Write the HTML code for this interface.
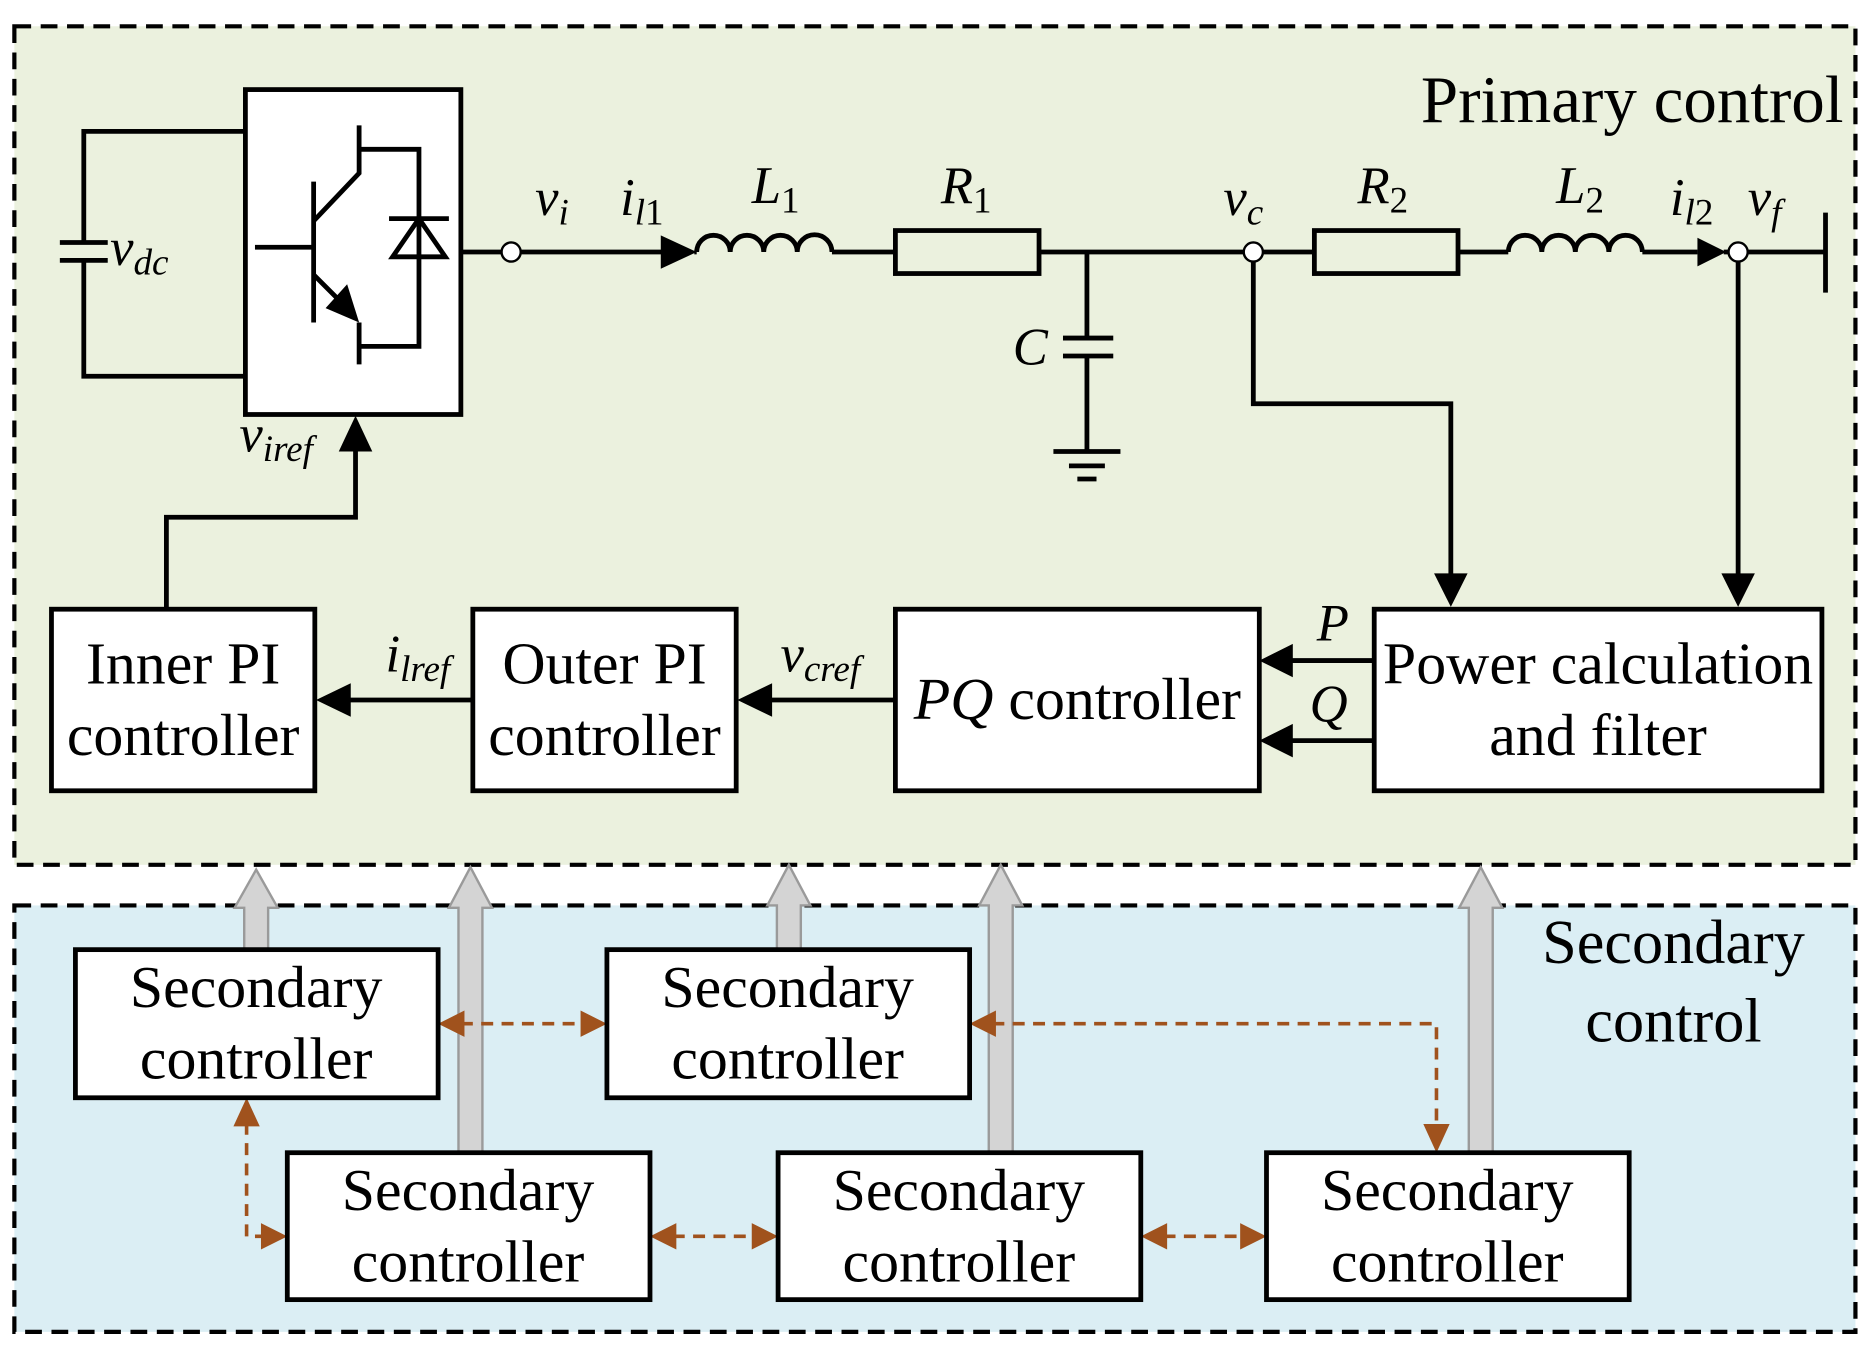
<!DOCTYPE html>
<html><head><meta charset="utf-8"><style>
html,body{margin:0;padding:0;background:#fff;}
svg{display:block;}
text{font-family:"Liberation Serif",serif;fill:#000;}
</style></head><body>
<svg width="1871" height="1351" viewBox="0 0 1563 1131" preserveAspectRatio="none" xmlns="http://www.w3.org/2000/svg">
<rect x="12" y="22" width="1538" height="702" fill="#ebf1de" stroke="#000" stroke-width="3.5" stroke-dasharray="14,8"/>
<rect x="12" y="758" width="1538" height="357" fill="#dbeef4" stroke="#000" stroke-width="3.5" stroke-dasharray="14,8"/>
<text x="1540" y="102" font-size="56" text-anchor="end">Primary control</text>
<text x="1398" y="806" font-size="52" text-anchor="middle">Secondary</text>
<text x="1398" y="872" font-size="52" text-anchor="middle">control</text>

<g stroke="#000" stroke-width="4" fill="none">
<path d="M205,110 H70 V203 M70,218 V315 H205"/>
<path d="M50,203 H90 M50,218 H90"/>
<rect x="205" y="75" width="180" height="272" fill="#fff"/>
<path d="M262,152 V270 M213,207 H262 M262,185 L300,145 V105 M300,125 H350 V290 H300 M300,270 V305 M262,230 L290,258"/>
<path d="M325,183 H375 M350,183 L328,215 H372 Z"/>
<path d="M385,211 H560 M580,211 H582 M695,211 H748 M868,211 H1098 M1218,211 H1260 M1372,211 H1418 M1440,211 H1525 M1525,178 V245"/>
<path d="M582,211 a14,14 0 0 1 28,0 a14,14 0 0 1 28,0 a14,14 0 0 1 28,0 a14,14 0 0 1 29,0"/>
<path d="M1260,211 a14,14 0 0 1 28,0 a14,14 0 0 1 28,0 a14,14 0 0 1 28,0 a14,14 0 0 1 28,0"/>
<rect x="748" y="193" width="120" height="36"/>
<rect x="1098" y="193" width="120" height="36"/>
<path d="M908,211 V283 M888,283 H930 M888,298 H930 M908,298 V378 M880,378 H936 M893,390 H923 M900,401 H916"/>
<path d="M1047,211 V338 H1212 V484"/>
<path d="M1452,211 V484"/>
<path d="M1148,553 H1074 M1148,620 H1074"/>
<path d="M748,586 H638 M395,586 H287"/>
<path d="M139,510 V433 H297 V372"/>
</g>
<g fill="#000">
<path d="M300,270 l-28,-12 l18,-20 z"/>
<path d="M552,197 L582,211 L552,225 z"/>
<path d="M1418,199 L1442,211 L1418,223 z"/>
<path d="M1198,480 L1226,480 L1212,508 z"/>
<path d="M1438,480 L1466,480 L1452,508 z"/>
<path d="M1080,539 L1052,553 L1080,567 z"/>
<path d="M1080,606 L1052,620 L1080,634 z"/>
<path d="M645,572 L616,586 L645,600 z"/>
<path d="M293,572 L264,586 L293,600 z"/>
<path d="M283,378 L297,348 L311,378 z"/>
</g>
<g fill="#fff" stroke="#000" stroke-width="2">
<circle cx="427" cy="211" r="8"/>
<circle cx="1047" cy="211" r="8"/>
<circle cx="1452" cy="211" r="8"/>
</g>
<g font-size="44" font-style="italic">
<text x="92" y="222">v<tspan font-size="31" dy="8">dc</tspan></text>
<text x="447" y="180">v<tspan font-size="31" dy="8">i</tspan></text>
<text x="518" y="180">i<tspan font-size="31" dy="8">l</tspan><tspan font-style="normal" font-size="31">1</tspan></text>
<text x="628" y="170">L<tspan font-style="normal" font-size="31" dy="8">1</tspan></text>
<text x="786" y="170">R<tspan font-style="normal" font-size="31" dy="8">1</tspan></text>
<text x="1022" y="180">v<tspan font-size="31" dy="8">c</tspan></text>
<text x="1134" y="170">R<tspan font-style="normal" font-size="31" dy="8">2</tspan></text>
<text x="1300" y="170">L<tspan font-style="normal" font-size="31" dy="8">2</tspan></text>
<text x="1395" y="180">i<tspan font-size="31" dy="8">l</tspan><tspan font-style="normal" font-size="31">2</tspan></text>
<text x="1460" y="180">v<tspan font-size="31" dy="8">f</tspan></text>
<text x="846" y="305">C</text>
<text x="200" y="378">v<tspan font-size="31" dy="8">iref</tspan></text>
<text x="322" y="562">i<tspan font-size="31" dy="8">lref</tspan></text>
<text x="652" y="562">v<tspan font-size="31" dy="8">cref</tspan></text>
<text x="1100" y="536">P</text>
<text x="1094" y="604">Q</text>
</g>
<g fill="#fff" stroke="#000" stroke-width="4">
<rect x="43" y="510" width="220" height="152"/>
<rect x="395" y="510" width="220" height="152"/>
<rect x="748" y="510" width="304" height="152"/>
<rect x="1148" y="510" width="374" height="152"/>
</g>
<g font-size="50" text-anchor="middle">
<text x="153" y="572">Inner PI</text><text x="153" y="632">controller</text>
<text x="505" y="572">Outer PI</text><text x="505" y="632">controller</text>
<text x="900" y="602"><tspan font-style="italic">PQ</tspan> controller</text>
<text x="1335" y="572">Power calculation</text><text x="1335" y="632">and filter</text>
</g>
<g fill="#d4d4d4" stroke="#9a9a9a" stroke-width="2">
<path d="M204,795 V760 H196 L214,728 L232,760 H224 V795 z"/>
<path d="M383,965 V760 H375 L393,726 L411,760 H403 V965 z"/>
<path d="M649,795 V758 H641 L659,724 L677,758 H669 V795 z"/>
<path d="M826,965 V758 H818 L836,724 L854,758 H846 V965 z"/>
<path d="M1227,965 V760 H1219 L1237,726 L1255,760 H1247 V965 z"/>
</g>
<g stroke="#a0521d" stroke-width="3" fill="none" stroke-dasharray="10,7">
<path d="M385,857 H488"/>
<path d="M829,857 H1200 V944"/>
<path d="M206,940 V1035 H222"/>
<path d="M562,1035 H631"/>
<path d="M972,1035 H1039"/>
</g>
<g fill="#a0521d">
<path d="M366,857 L388,846 L388,868 z"/><path d="M507,857 L485,846 L485,868 z"/>
<path d="M810,857 L832,846 L832,868 z"/>
<path d="M1200,965 L1189,941 L1211,941 z"/>
<path d="M206,919 L195,943 L217,943 z"/><path d="M240,1035 L218,1024 L218,1046 z"/>
<path d="M543,1035 L565,1024 L565,1046 z"/><path d="M650,1035 L628,1024 L628,1046 z"/>
<path d="M953,1035 L975,1024 L975,1046 z"/><path d="M1058,1035 L1036,1024 L1036,1046 z"/>
</g>
<g fill="#fff" stroke="#000" stroke-width="4">
<rect x="63" y="795" width="303" height="124"/>
<rect x="507" y="795" width="303" height="124"/>
<rect x="240" y="965" width="303" height="123"/>
<rect x="650" y="965" width="303" height="123"/>
<rect x="1058" y="965" width="303" height="123"/>
</g>
<g font-size="50" text-anchor="middle">
<text x="214" y="843">Secondary</text><text x="214" y="903">controller</text>
<text x="658" y="843">Secondary</text><text x="658" y="903">controller</text>
<text x="391" y="1013">Secondary</text><text x="391" y="1073">controller</text>
<text x="801" y="1013">Secondary</text><text x="801" y="1073">controller</text>
<text x="1209" y="1013">Secondary</text><text x="1209" y="1073">controller</text>
</g>
</svg>
</body></html>
